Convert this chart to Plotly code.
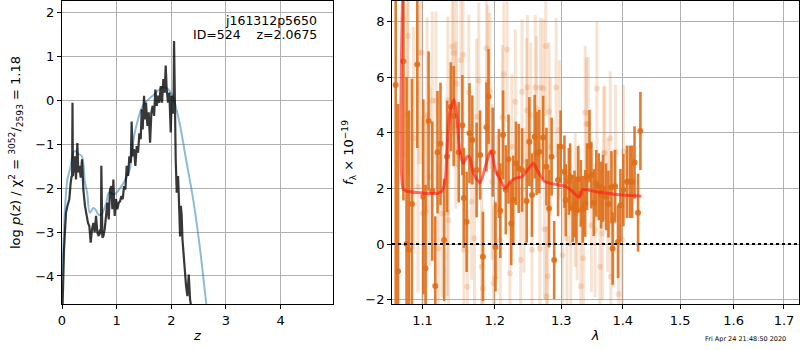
import plotly.graph_objects as go

# ---------------- left panel: log p(z) ----------------
pz_z = [0.005, 0.012, 0.037, 0.073, 0.098, 0.134, 0.159, 0.177, 0.185, 0.192, 0.200, 0.238, 0.256, 0.281,
        0.299, 0.317, 0.342, 0.366, 0.391, 0.421, 0.452, 0.476, 0.500, 0.525, 0.549, 0.574, 0.598, 0.623,
        0.647, 0.671, 0.696, 0.712, 0.720, 0.728, 0.739, 0.757, 0.781, 0.806, 0.830, 0.855, 0.879, 0.903,
        0.922, 0.940, 0.964, 0.989, 1.013, 1.038, 1.062, 1.087, 1.111, 1.136, 1.160, 1.184, 1.209, 1.233,
        1.258, 1.275, 1.294, 1.318, 1.343, 1.367, 1.392, 1.416, 1.441, 1.459, 1.477, 1.502, 1.520, 1.538,
        1.563, 1.587, 1.612, 1.636, 1.660, 1.685, 1.709, 1.734, 1.758, 1.782, 1.807, 1.831, 1.855, 1.880,
        1.898, 1.916, 1.941, 1.965, 1.990, 2.008, 2.026, 2.040, 2.051, 2.062, 2.069, 2.081, 2.100, 2.124,
        2.136, 2.161, 2.175, 2.190, 2.205, 2.222, 2.246, 2.271, 2.295, 2.320, 2.344, 2.363, 2.400, 2.500]
pz_logp = [-4.70, -4.61, -3.39, -2.56, -2.41, -2.25, -1.87, -1.72, -1.75, -0.05, -1.72, -1.27, -1.80, -0.97,
           -1.64, -1.49, -1.76, -1.34, -2.03, -2.41, -2.63, -2.79, -2.86, -3.24, -2.94, -2.79, -3.01, -2.63,
           -3.01, -3.09, -2.94, -3.05, -1.49, -3.10, -3.13, -3.09, -2.94, -2.63, -2.33, -2.71, -2.03, -1.95,
           -2.48, -1.80, -2.63, -2.25, -2.48, -2.33, -2.30, -2.18, -2.25, -1.95, -2.03, -1.49, -1.72, -1.27,
           -1.42, -0.48, -1.27, -1.11, -1.49, -1.04, -1.19, -0.75, -0.88, -0.20, -0.66, 0.11, -0.43, -0.05,
           -0.58, -0.27, -0.96, -0.27, -0.12, -0.35, 0.25, -0.12, 0.11, -0.05, 0.33, -0.05, 0.49, 0.18,
           0.80, 0.25, -0.05, 0.18, -0.73, 0.11, -0.27, -0.30, 1.36, -0.30, -0.43, -1.34, -2.10, -1.72,
           -2.10, -3.10, -2.40, -2.60, -3.17, -3.47, -3.93, -4.23, -4.46, -3.97, -4.54, -4.69, -5.30, -6.50]

fit_z = [0.0, 0.024, 0.05, 0.08, 0.098, 0.15, 0.21, 0.25, 0.30, 0.36, 0.42, 0.46, 0.51, 0.574, 0.62, 0.666,
         0.72, 0.81, 0.86, 0.96, 1.05, 1.15, 1.24, 1.30, 1.36, 1.48, 1.66, 1.85, 1.94, 2.03, 2.15, 2.27,
         2.40, 2.52, 2.64, 2.76]
fit_logp = [-4.0, -3.39, -2.56, -2.02, -1.80, -1.55, -1.18, -1.15, -1.22, -1.26, -1.87, -2.10, -2.56, -2.45,
            -2.50, -2.60, -2.60, -2.33, -2.10, -2.14, -2.02, -1.83, -1.57, -0.96, -0.58, -0.12, 0.11, 0.30,
            0.26, 0.07, -0.50, -1.34, -2.25, -3.32, -4.63, -6.0]

# ---------------- right panel: spectrum ----------------
dark_wave = [1.065, 1.068, 1.075, 1.079, 1.082, 1.086, 1.093, 1.101, 1.104, 1.108, 1.113, 1.117, 1.120, 1.124,
             1.129, 1.133, 1.138, 1.142, 1.149, 1.154, 1.156, 1.160, 1.164, 1.168, 1.174, 1.179, 1.183, 1.188,
             1.191, 1.197, 1.201, 1.206, 1.208, 1.212, 1.216, 1.220, 1.224, 1.227, 1.231, 1.235, 1.240, 1.247,
             1.251, 1.255, 1.259, 1.262, 1.266, 1.272, 1.277, 1.281, 1.285, 1.289, 1.295, 1.299, 1.305, 1.307,
             1.312, 1.314, 1.318, 1.321, 1.324, 1.327, 1.331, 1.334, 1.338, 1.341, 1.345, 1.348, 1.352, 1.356,
             1.360, 1.364, 1.367, 1.372, 1.376, 1.381, 1.383, 1.387, 1.392, 1.396, 1.401, 1.407, 1.412, 1.416,
             1.420, 1.426, 1.430]
dark_flux = [5.71, -0.97, 6.57, 0.0, -0.2, 1.44, 6.45, 1.7, -0.87, 4.42, 1.9, -1.5, 3.3, 3.6, 0.15, 3.15,
             4.93, 4.6, 3.3, 4.27, 1.66, 0.8, 3.98, 3.74, 2.66, 3.2, -0.45, 4.2, 5.3, 3.3, -0.1, 2.54, 1.2,
             3.92, 1.95, 3.05, 0.74, 1.58, 2.9, 2.72, 2.66, 1.55, 3.68, 1.76, 3.86, 3.26, 3.32, 3.83, 2.78,
             1.28, 3.14, -0.57, 2.3, 3.5, 2.6, 1.58, 2.25, 2.42, 1.28, 1.44, 1.22, 2.33, 1.82, 1.25, 1.46,
             2.42, 3.52, 2.48, 1.49, 2.18, 2.06, 1.76, 2.0, 1.7, 1.44, 2.04, -0.16, 2.08, 0.08, 1.4, 1.94,
             2.24, 2.24, 2.24, 2.93, 1.13, 4.06]
dark_err = [8.0, 6.0, 5.0, 6.0, 5.0, 4.5, 3.0,
            3.5, 3.0, 2.5, 2.5, 2.5, 2.2, 2.2, 2.2, 2.0,
            1.6, 1.8, 1.8, 1.8, 1.8, 1.8, 1.8, 1.6, 1.7, 1.6, 1.6, 1.6, 1.7, 1.6,
            1.6, 1.6, 1.7, 1.6, 1.6, 1.6, 1.5, 1.6, 1.5, 1.6, 1.5, 1.5, 1.6, 1.5, 1.5, 1.5, 1.5, 1.5, 1.4, 1.4,
            1.4, 1.4, 1.3, 1.3, 1.3, 1.3, 1.2, 1.2, 1.2, 1.2, 1.2, 1.2, 1.2, 1.2, 1.2, 1.2, 1.3, 1.2, 1.2, 1.2,
            1.2, 1.2, 1.2, 1.2, 1.2, 1.3, 1.3, 1.3, 1.3, 1.3, 1.3, 1.3, 1.3, 1.3, 1.3, 1.4, 1.4]

light_wave = [1.075, 1.081, 1.080, 1.088, 1.095, 1.099, 1.094, 1.100, 1.105, 1.106, 1.110, 1.113, 1.118, 1.121,
              1.126, 1.133, 1.134, 1.135, 1.140, 1.142, 1.146, 1.145, 1.152, 1.155, 1.156, 1.161, 1.163, 1.167,
              1.171, 1.174, 1.177, 1.181, 1.183, 1.188, 1.190, 1.193, 1.196, 1.198, 1.200, 1.203, 1.208, 1.211,
              1.213, 1.218, 1.222, 1.225, 1.230, 1.238, 1.240, 1.243, 1.247, 1.248, 1.253, 1.255, 1.260, 1.262,
              1.267, 1.268, 1.272, 1.274, 1.276, 1.279, 1.281, 1.277, 1.283, 1.292, 1.297, 1.302, 1.309, 1.315,
              1.322, 1.325, 1.331, 1.335, 1.338, 1.340, 1.343, 1.348, 1.354, 1.357, 1.362, 1.366, 1.368, 1.370,
              1.375, 1.379, 1.380, 1.384, 1.388, 1.393, 1.399, 1.401]
light_flux = [8.08, 7.47, 4.64, 3.8, 6.87, 6.87, 2.06, 1.1, 1.16, 4.64, 2.42, 5.15, 5.15, -0.16, 1.1, 1.13,
              5.17, 0.86, 7.1, 6.87, 5.77, 4.27, 6.6, 6.8, -0.2, -1.53, 5.44, 1.52, 0.2, 4.57, 5.87, -0.81,
              -1.59, 7.03, 5.8, 5.5, 2.24, -1.41, -1.23, 1.34, 0.14, 4.55, 6.1, 6.99, -1.05, 3.5, 5.11, -0.57,
              5.47, 1.58, 4.8, 5.63, 4.64, -0.2, 5.62, 4.87, -0.16, 5.62, 5.59, 0.53, 7.11, -1.15, 4.75, -1.87,
              3.5, 5.62, 4.1, -0.4, 0.2, 0.02, 1.58, 1.1, -1.51, -0.51, 4.72, 4.31, 4.31, 0.68, 0.5, 5.59,
              -0.81, 0.38, 3.26, 3.28, 1.4, 3.8, -1.17, 0.86, 3.32, -1.8, 0.17, 3.32]
light_err = [5.0, 5.0, 4.5, 4.0, 4.0, 4.0, 3.8, 3.5, 3.5, 3.5, 3.2, 3.2, 3.2, 3.0,
             3.0, 3.0, 3.0, 3.0, 3.0, 3.0, 3.0, 3.0, 2.8, 2.8, 2.8, 2.8, 2.8, 2.8,
             2.8, 2.8, 2.8, 2.8, 2.8, 2.8, 2.8, 2.8, 2.8, 2.8, 2.8, 2.6, 2.6, 2.6,
             2.6, 2.6, 2.6, 2.6, 2.6, 2.6, 2.6, 2.6, 2.6, 2.6, 2.6, 2.6, 2.6, 2.6,
             2.5, 2.5, 2.5, 2.5, 2.5, 2.5, 2.5, 2.5, 2.5, 2.5, 2.5, 2.4, 2.4, 2.4,
             2.4, 2.4, 2.4, 2.4, 2.4, 2.4, 2.4, 2.4, 2.4, 2.4, 2.4, 2.4, 2.4, 2.4,
             2.4, 2.4, 2.4, 2.4, 2.4, 2.4, 2.4, 2.4]

model_wave = [1.0743, 1.0746, 1.0795, 1.0925, 1.1057, 1.1191, 1.1259, 1.1304, 1.1335, 1.1372, 1.1427, 1.1463,
              1.1509, 1.1556, 1.1602, 1.1639, 1.1695, 1.179, 1.1851, 1.1923, 1.1951, 1.2008, 1.208, 1.2155,
              1.2228, 1.230, 1.240, 1.250, 1.2576, 1.2627, 1.2728, 1.283, 1.297, 1.308, 1.318, 1.328, 1.334,
              1.342, 1.356, 1.378, 1.400, 1.432]
model_flux = [9.5, 1.98, 1.9, 1.85, 1.82, 1.82, 1.9, 2.3, 3.7, 4.8, 5.18, 4.58, 3.26, 2.9, 3.14, 3.14, 2.54,
              2.2, 2.66, 3.26, 3.34, 2.66, 2.3, 2.0, 2.24, 2.36, 2.42, 2.72, 2.9, 2.66, 2.28, 2.18, 2.12, 2.06,
              1.88, 1.68, 1.96, 1.94, 1.88, 1.82, 1.76, 1.72]

lam_ticks = [1.1, 1.2, 1.3, 1.4, 1.5, 1.6, 1.7]
lam_ticklabels = ["1.1", "1.2", "1.3", "1.4", "1.5", "1.6", "1.7"]

FONT = "DejaVu Sans"
ORANGE = "rgba(222,110,25,0.9)"
ORANGE_LIGHT = "rgba(222,110,25,0.2)"

fig = go.Figure()

# left panel
fig.add_trace(go.Scatter(x=fit_z, y=fit_logp, mode="lines", line_shape="spline",
                         line=dict(color="rgba(31,119,180,0.5)", width=2), xaxis="x", yaxis="y",
                         showlegend=False, hoverinfo="skip"))
fig.add_trace(go.Scatter(x=pz_z, y=pz_logp, mode="lines",
                         line=dict(color="rgba(0,0,0,0.78)", width=2.2), xaxis="x", yaxis="y",
                         showlegend=False, hoverinfo="skip"))

# right panel
fig.add_trace(go.Scatter(x=light_wave, y=light_flux, mode="markers",
                         marker=dict(color=ORANGE_LIGHT, size=6),
                         error_y=dict(type="data", array=light_err, color=ORANGE_LIGHT, thickness=3, width=0),
                         xaxis="x2", yaxis="y2", showlegend=False, hoverinfo="skip"))
fig.add_trace(go.Scatter(x=dark_wave, y=dark_flux, mode="markers",
                         marker=dict(color=ORANGE, size=6),
                         error_y=dict(type="data", array=dark_err, color=ORANGE, thickness=2.6, width=0),
                         xaxis="x2", yaxis="y2", showlegend=False, hoverinfo="skip"))
fig.add_trace(go.Scatter(x=model_wave, y=model_flux, mode="lines", line_shape="spline",
                         line=dict(color="rgba(255,20,20,0.6)", width=3, smoothing=0.6),
                         xaxis="x2", yaxis="y2", showlegend=False, hoverinfo="skip"))

axis_common = dict(showline=True, linecolor="black", linewidth=1, mirror=True,
                   ticks="outside", ticklen=4, tickcolor="black", automargin=False,
                   showgrid=True, gridcolor="#b0b0b0", gridwidth=1, zeroline=False,
                   tickfont=dict(family=FONT, size=13, color="black"))

fig.update_layout(
    width=800, height=350,
    margin=dict(l=62, r=1, t=1, b=46),
    paper_bgcolor="white", plot_bgcolor="white",
    font=dict(family=FONT, size=13, color="black"),
    xaxis=dict(domain=[0, 0.3677], range=[0, 4.96], tickvals=[0, 1, 2, 3, 4],
               title=dict(text="<i>z</i>", font=dict(family=FONT, size=13), standoff=4), **axis_common),
    yaxis=dict(domain=[0, 1], range=[-4.64, 2.27], tickvals=[-4, -3, -2, -1, 0, 1, 2],
               title=dict(text="log <i>p</i>(<i>z</i>) / χ<sup>2</sup> = <sup>3052</sup>/<sub>2593</sub> = 1.18",
                          font=dict(family=FONT, size=13), standoff=11), **axis_common),
    xaxis2=dict(domain=[0.4478, 1], type="log", range=[0.02543, 0.2383], anchor="y2",
                tickvals=lam_ticks, ticktext=lam_ticklabels,
                title=dict(text="<i>λ</i>", font=dict(family=FONT, size=13), standoff=4), **axis_common),
    yaxis2=dict(domain=[0, 1], range=[-2.15, 8.73], tickvals=[-2, 0, 2, 4, 6, 8], anchor="x2",
                title=dict(text="<i>f</i><sub>λ</sub> × 10<sup>−19</sup>", font=dict(family=FONT, size=13),
                           standoff=8), **axis_common),
    shapes=[dict(type="line", xref="x2 domain", yref="y2", x0=0, x1=1, y0=0, y1=0,
                 line=dict(color="black", width=2, dash="dot"), layer="above")],
    annotations=[
        dict(text="j161312p5650", xref="paper", yref="paper", x=0.3483, y=0.937,
             xanchor="right", yanchor="middle", showarrow=False, font=dict(family=FONT, size=12.5)),
        dict(text="ID=524\u00a0\u00a0\u00a0\u00a0z=2.0675", xref="paper", yref="paper", x=0.3483, y=0.891,
             xanchor="right", yanchor="middle", showarrow=False, font=dict(family=FONT, size=12.5)),
        dict(text="Fri Apr 24 21:48:50 2020", xref="paper", yref="paper", x=0.985, y=-0.1155,
             xanchor="right", yanchor="middle", showarrow=False, font=dict(family=FONT, size=6.5)),
    ],
)

fig.write_html("out.html", config={"displayModeBar": False},
               post_script="document.body.style.margin='0';document.body.style.padding='0';")
